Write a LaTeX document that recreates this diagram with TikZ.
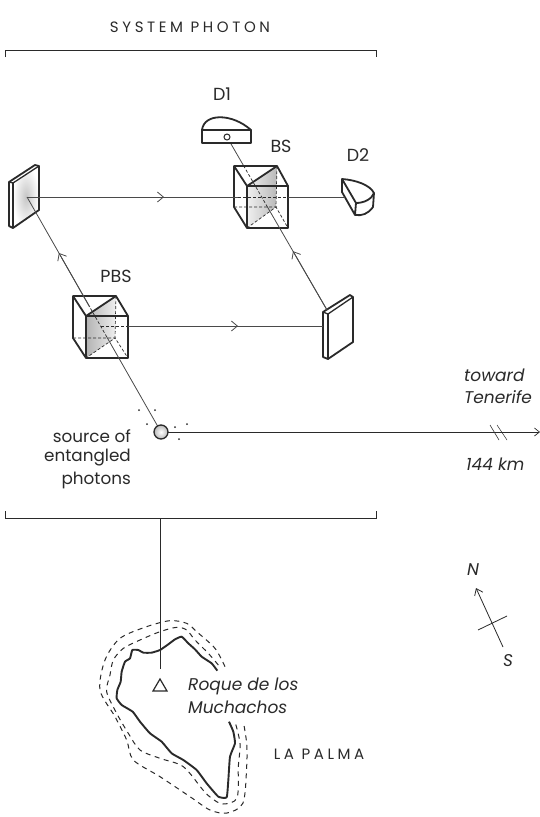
\documentclass[tikz,border=0pt]{standalone}
\usepackage{fontspec}
\setmainfont{Poppins}
\usetikzlibrary{arrows.meta,shadings,calc}
\definecolor{ink}{HTML}{2A2A2A}
\tikzset{
  x=1pt,y=-1pt,
  thick line/.style={draw=ink,line width=1.8pt,line join=round},
  thin line/.style={draw=ink,line width=0.55pt},
  beam/.style={draw=ink!85,line width=0.8pt},
  hidden/.style={draw=ink,line width=0.7pt,dash pattern=on 3pt off 2pt},
  barb/.style={-{Straight Barb[length=6pt,width=10pt,line width=0.8pt]}},
  coast/.style={draw=ink,line width=1.9pt,line join=round},
  shore/.style={draw=ink,line width=1pt,dash pattern=on 5pt off 4.5pt},
  lab/.style={font=\fontsize{16.8}{20}\selectfont,text=ink,inner sep=0pt},
  tag/.style={font=\fontsize{17.5}{20}\selectfont,text=ink,inner sep=0pt},
  ilab/.style={font=\fontsize{17}{20}\selectfont\itshape,text=ink,inner sep=0pt},
  caps/.style={font=\fontsize{15}{18}\selectfont\addfontfeatures{LetterSpace=24},text=ink,inner sep=0pt},
}
\begin{document}
\begin{tikzpicture}
\useasboundingbox (0,0) rectangle (540,817);
\fill[white] (0,0) rectangle (540,817);

% frame
\draw[thin line] (5,57) -- (5,50) -- (376,50) -- (376,57);
\draw[thin line] (5,511) -- (5,518) -- (376,518) -- (376,511);
\coordinate (frameB) at (160,518);
\coordinate (peak) at (160,669);
\draw[thin line] (frameB) -- (peak);

% named beam points
\coordinate (m1) at (27,197);
\coordinate (m2) at (327,310);
\coordinate (src) at (161,432);
\coordinate (d1c) at (227,137);
\coordinate (d2c) at (345,197);
\coordinate (a1) at (164,197);
\coordinate (a2) at (238,326);
\coordinate (a3) at ($(m1)!0.238!(src)$);
\coordinate (a4) at ($(d1c)!0.66!(m2)$);
\coordinate (pbsR) at (128,326);
\coordinate (m2L) at (323,326);
\coordinate (bsL) at (238,197);
\coordinate (bsR) at (288,197);
\coordinate (pbsT) at ($(m1)!0.468!(src)$);
\coordinate (pbsB) at ($(m1)!0.596!(src)$);
\coordinate (bsT) at ($(d1c)!0.162!(m2)$);
\coordinate (bsB) at ($(d1c)!0.405!(m2)$);

% Mirror 1 (left)
\shade[inner color=gray!45,outer color=white] (13,183) -- (39,166) -- (39,210) -- (13,228) -- cycle;
\draw[thick line] (9,182) -- (35,165) -- (39,166) -- (39,210) -- (13,228) -- (9,226) -- cycle;
\draw[thick line,line width=1.3pt] (9,182) -- (13,183) -- (39,166);
\draw[thick line,line width=1.3pt] (13,183) -- (13,228);

% Mirror 2 (right)
\fill[white] (323,312) -- (350,295) -- (353,297) -- (353,342) -- (328,359) -- (323,357) -- cycle;
\draw[thick line] (323,312) -- (350,295) -- (353,297) -- (353,342) -- (328,359) -- (323,357) -- cycle;
\draw[thick line,line width=1.3pt] (323,312) -- (328,314) -- (353,297);
\draw[thick line,line width=1.3pt] (328,314) -- (328,359);

% PBS
\shade[left color=gray!60,right color=gray!12] (86,316) -- (116,296) -- (115,338) -- (86,358) -- cycle;
\draw[thick line] (73,296) -- (116,296) -- (128,316) -- (128,358) -- (86,358) -- (73,338) -- cycle;
\draw[thick line] (73,296) -- (86,316) -- (128,316);
\draw[thick line] (86,316) -- (86,358);
\draw[thick line] (86,316) -- (116,296);
\draw[hidden] (116,296) -- (115,338) -- (128,358);
\draw[hidden] (73,338) -- (115,338) -- (86,358);

% BS
\shade[left color=gray!12,right color=gray!55] (247,186) -- (277,166) -- (276,207) -- (247,228) -- cycle;
\draw[thick line] (234,166) -- (277,166) -- (288,186) -- (288,228) -- (247,228) -- (234,207) -- cycle;
\draw[thick line] (234,166) -- (247,186) -- (288,186);
\draw[thick line] (247,186) -- (247,228);
\draw[thick line] (247,186) -- (277,166);
\draw[hidden] (277,166) -- (276,207) -- (288,228);
\draw[hidden] (234,207) -- (276,207) -- (247,228);

% beams
\draw[beam] (m1) -- (bsL);
\draw[beam,barb] (m1) -- (a1);
\draw[hidden] (bsL) -- (bsR);
\draw[beam] (bsR) -- (d2c);
\draw[beam] (pbsR) -- (m2L);
\draw[beam,barb] (pbsR) -- (a2);
\draw[hidden] (101,326) -- (pbsR);
\draw[beam] (src) -- (pbsB);
\draw[hidden] (pbsB) -- (pbsT);
\draw[beam] (pbsT) -- (m1);
\draw[beam,barb] (pbsT) -- (a3);
\draw[beam] (m2) -- (bsB);
\draw[beam,barb] (m2) -- (a4);
\draw[hidden] (bsB) -- (bsT);
\draw[beam] (bsT) -- (d1c);

% D1
\path[fill=white] (202,130) .. controls (204,113) and (232,113) .. (251,130) -- (251,143) -- (202,143) -- cycle;
\draw[thick line] (202,130) .. controls (204,113) and (232,113) .. (251,130) -- (251,143) -- (202,143) -- cycle;
\draw[thick line] (202,130) -- (251,130);
\node[circle,draw=ink,line width=1pt,fill=white,inner sep=0pt,minimum size=6pt] (d1) at (d1c) {};

% D2
\path[fill=white] (342,179) .. controls (356,180) and (370,185) .. (374,193) -- (373,207) .. controls (368,214) and (362,216) .. (355,215) -- (342,192) -- cycle;
\draw[thick line] (342,179) -- (342,192) -- (355,215) -- (356,203) -- cycle;
\draw[thick line] (342,179) .. controls (356,180) and (370,185) .. (374,193) .. controls (372,199) and (364,203) .. (356,203);
\draw[thick line] (374,193) -- (373,207) .. controls (368,214) and (362,216) .. (355,215);
\draw[beam] (330,197) -- (d2c);

% source
\draw[draw=ink,line width=1.3pt,inner color=white,outer color=gray!55] (src) circle[radius=7];
\foreach \p in {(139,410),(155,410),(147,424),(175,427),(187,424),(179,439)}
  \fill[ink] \p circle[radius=1];

% long line
\coordinate (srcR) at (168,432);
\coordinate (tip) at (540,432);
\draw[draw=ink,line width=0.9pt,-{Straight Barb[length=5pt,width=8pt,line width=0.7pt]}] (srcR) -- (tip);
\draw[thin line] (490,425) -- (499,440);
\draw[thin line] (497,425) -- (507,440);

% compass
\coordinate (compS) at (503,647);
\coordinate (compN) at (476,588);
\draw[draw=ink,line width=0.8pt,-{Straight Barb[length=6pt,width=9pt,line width=0.8pt]}] (compS) -- (compN);
\draw[draw=ink,line width=0.8pt] (478,630) -- (507,616);

% triangle
\draw[draw=ink,line width=1.2pt,line join=miter] (160,679) -- (167,691) -- (153,691) -- cycle;

% island
\begin{scope}[shift={(80,610)},x=0.33333pt,y=-0.33333pt]
\draw[coast] plot[smooth,tension=0.25] coordinates {(412,182) (395,160) (365,140) (345,118) (325,100) (305,80) (285,88) (262,105) (240,120) (215,128) (190,128) (175,120) (157,120) (150,145) (135,155) (125,185) (122,215) (112,240) (110,265) (125,285) (158,305) (180,335) (210,370) (245,395) (275,430) (310,450) (350,480) (380,520) (415,560) (440,562) (445,510) (450,440) (465,400) (460,365) (447,335)};
\draw[shore] plot[smooth,tension=0.5] coordinates {(415,165) (385,130) (345,90) (320,60) (290,52) (240,65) (180,90) (130,115) (100,150) (90,195) (80,245) (110,310) (145,370) (180,420) (240,445) (310,470) (369,540) (395,565) (429,582) (471,564) (475,470) (480,400) (465,335)};
\draw[shore] plot[smooth,tension=0.5] coordinates {(435,170) (405,115) (350,65) (320,40) (270,32) (200,50) (120,85) (75,150) (60,240) (105,320) (140,390) (160,450) (240,500) (330,560) (390,600) (441,609) (489,579) (500,470) (500,400) (490,335)};
\end{scope}

% text
\node[caps] (title) at (190,27) {SYSTEM PHOTON};
\node[tag] (lD1) at (222,94) {D1};
\node[tag] (lBS) at (281,146) {BS};
\node[tag] (lD2) at (358,155) {D2};
\node[tag] (lPBS) at (116,276) {PBS};
\node[lab,anchor=east,align=right] (lsrc1) at (131,436) {source of};
\node[lab,anchor=east,align=right] (lsrc2) at (131,458) {entangled};
\node[lab,anchor=east,align=right] (lsrc3) at (131,480) {photons};
\node[ilab,anchor=west] (lt1) at (464,375) {toward};
\node[ilab,anchor=west] (lt2) at (464,397) {Tenerife};
\node[ilab,anchor=west] (lkm) at (466,464) {144 km};
\node[ilab] (lN) at (473,570) {N};
\node[ilab] (lS) at (508,661) {S};
\node[ilab,anchor=west] (lr1) at (188,686) {Roque de los};
\node[ilab,anchor=west] (lr2) at (188,707) {Muchachos};
\node[caps] (lLP) at (319,754) {LA PALMA};
\end{tikzpicture}
\end{document}
